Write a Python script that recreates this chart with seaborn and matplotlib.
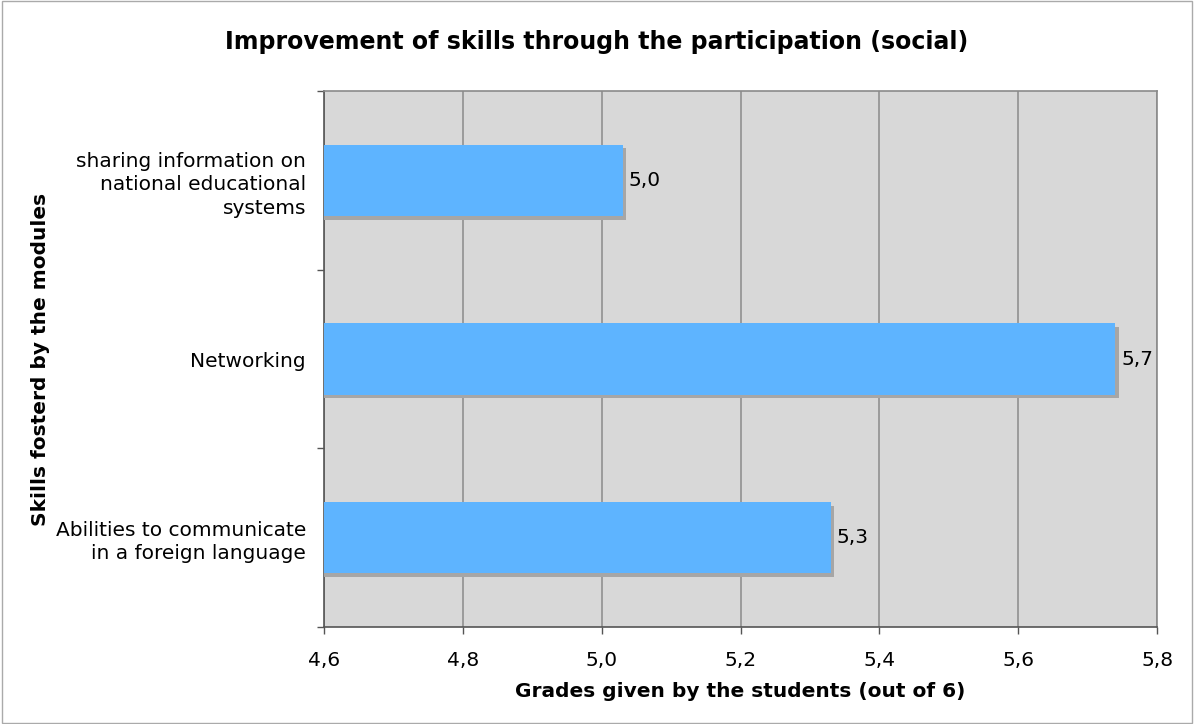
import matplotlib
matplotlib.use("Agg")
import matplotlib.pyplot as plt
import matplotlib.patheffects as pe
import seaborn as sns
import pandas as pd

# Dados do gráfico
categorias = ["sharing information on\nnational educational\nsystems",
              "Networking",
              "Abilities to communicate\nin a foreign language"]
notas = [5.03, 5.74, 5.33]
rotulos = ["5,0", "5,7", "5,3"]
ticks_x = [4.6, 4.8, 5.0, 5.2, 5.4, 5.6, 5.8]

sns.set_style("white")
plt.rcParams['font.family'] = ['DejaVu Sans']
plt.rcParams['text.color'] = 'black'
plt.rcParams['axes.labelcolor'] = 'black'
plt.rcParams['xtick.color'] = 'black'
plt.rcParams['ytick.color'] = 'black'

df = pd.DataFrame({"skill": categorias, "grade": notas})

fig = plt.figure(figsize=(11.94, 7.24), dpi=100)
ax = fig.add_axes([0.2714, 0.134, 0.6977, 0.740])
ax.set_facecolor("#d8d8d8")

sns.barplot(data=df, x="grade", y="skill", orient="h", color="#5eb4ff",
            saturation=1, width=0.4, ax=ax, zorder=3, linewidth=0)

for barra in ax.patches:
    barra.set_linewidth(0)
    barra.set_path_effects([pe.SimplePatchShadow(offset=(2.6, -2.6),
                                                 shadow_rgbFace="#a6a6a6", alpha=1),
                            pe.Normal()])

ax.set_xlim(4.6, 5.8)
ax.set_ylim(2.5, -0.5)
ax.set_xticks(ticks_x)
ax.set_xticklabels([f"{t:.1f}".replace(".", ",") for t in ticks_x], fontsize=14.5)
ax.xaxis.grid(True, color="#8a8a8a", linewidth=1.1, zorder=0)
ax.set_axisbelow(True)

ax.set_yticks(range(len(categorias)))
ax.set_yticklabels(categorias, fontsize=14.5, linespacing=1.3)
ax.set_yticks([-0.5, 0.5, 1.5, 2.5], minor=True)
ax.tick_params(axis="y", which="major", length=0, pad=13, left=True)
ax.tick_params(axis="y", which="minor", length=5, color="#555555", width=1, left=True)
ax.tick_params(axis="x", which="major", length=5, color="#555555", width=1, pad=12,
               bottom=True)

for i, (v, r) in enumerate(zip(notas, rotulos)):
    ax.text(v + 0.008, i, r, va="center", ha="left", fontsize=14.5, color="black")

for lado in ["left", "bottom"]:
    ax.spines[lado].set_color("#555555")
    ax.spines[lado].set_linewidth(1.2)
for lado in ["top", "right"]:
    ax.spines[lado].set_color("#8a8a8a")
    ax.spines[lado].set_linewidth(1.2)

ax.set_xlabel("Grades given by the students (out of 6)", fontsize=14.5,
              fontweight="bold", labelpad=9)
ax.set_ylabel("Skills fosterd by the modules", fontsize=14.5,
              fontweight="bold", labelpad=4)
fig.suptitle("Improvement of skills through the participation (social)",
             fontsize=17, fontweight="bold", x=0.5, y=0.942, va="center")

fig.patches.append(plt.Rectangle((0.0015, 0.002), 0.997, 0.996, transform=fig.transFigure,
                                 fill=False, edgecolor="#aaaaaa", linewidth=1))

fig.savefig("out.png", dpi=100)
